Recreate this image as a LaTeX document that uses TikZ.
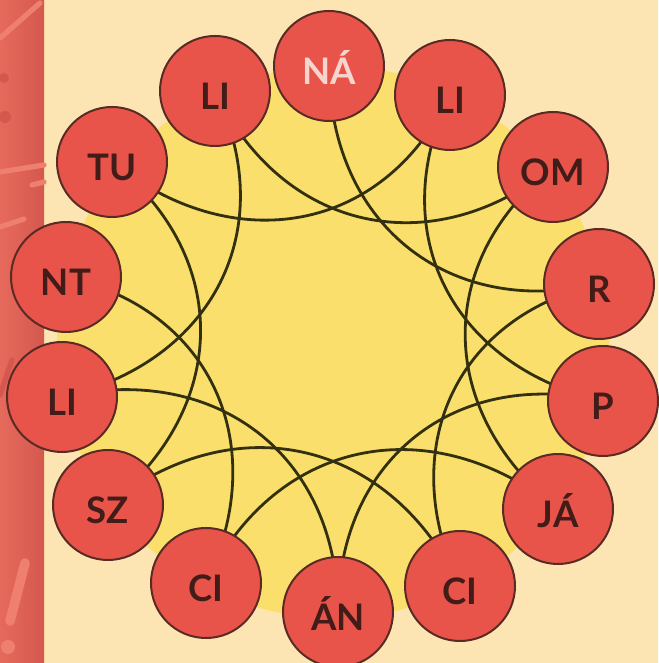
\documentclass[tikz,border=0pt]{standalone}
\usepackage{fontspec}
\setmainfont{Lato}
\definecolor{Cream}{HTML}{FCE5B2}
\definecolor{Sun}{HTML}{FADF6C}
\definecolor{Coral}{HTML}{E9544A}
\definecolor{Rim}{HTML}{5A2A25}
\definecolor{Ink}{HTML}{421C19}
\definecolor{Pale}{HTML}{F7D5CC}
\definecolor{Wire}{HTML}{33300F}
\definecolor{Strip}{HTML}{E66A5C}
\definecolor{StripDark}{HTML}{D4584D}
\definecolor{StripLight}{HTML}{EF8070}
\pgfdeclarelayer{back}
\pgfdeclarelayer{links}
\pgfsetlayers{back,links,main}

\begin{document}
\begin{tikzpicture}[x=0.25mm,y=0.25mm,
    syll/.style={circle,draw=Rim,line width=0.5mm,fill=Coral,minimum size=27.5mm,
      inner sep=0pt,font=\fontsize{26}{30}\selectfont\bfseries,
      text height=27pt,text depth=0pt},
    link/.style={draw=Wire,line width=0.7mm,looseness=1.15},
    scrawl/.style={line width=1.3mm,line cap=round}
  ]
    \useasboundingbox (0,0) rectangle (658,663);
    \begin{pgfonlayer}{back}
      \fill[Cream] (0,0) rectangle (658,663);
      \shade[left color=Strip,right color=StripDark] (0,0) rectangle (44,663);
      % marks on the strip
      \draw[scrawl,StripLight] (0,625) -- (40,660);
      \draw[scrawl,StripLight] (0,491) -- (44,498);
      \draw[scrawl,StripLight] (32,478) -- (44,481);
      \draw[scrawl,StripLight] (0,436) -- (24,444);
      \fill[StripDark] (4,585) circle[radius=5];
      \fill[StripDark] (5,546) circle[radius=6];
      \draw[scrawl,StripDark] (0,268) -- (12,303);
      \draw[StripLight,line width=2.4mm,line cap=round] (25,100) -- (10,42);
      \fill[StripLight] (8,16) circle[radius=7];
      \fill[Sun] (333,321) circle[radius=276];
    \end{pgfonlayer}
    \foreach \k/\txt/\x/\y/\col in {0/NÁ/329/597/Pale, 1/LI/450/568/Ink,
        2/OM/553/496/Ink, 3/R/599/379/Ink, 4/P/603/262/Ink, 5/JÁ/558/154/Ink,
        6/CI/460/77/Ink, 7/ÁN/338/51/Ink, 8/CI/206/80/Ink, 9/SZ/108/158/Ink,
        10/LI/62/266/Ink, 11/NT/66/386/Ink, 12/TU/112/501/Ink, 13/LI/215/572/Ink}
      \node[syll,text=\col] (n\k) at (\x,\y) {\txt};
    \begin{pgfonlayer}{links}
      \foreach \a/\b in {0/3,3/6,6/9,9/12,12/1,1/4,4/7,7/10,10/13,13/2,2/5,5/8,8/11}{
        \pgfmathsetmacro\oa{270-\a*360/14}
        \pgfmathsetmacro\ob{270-\b*360/14}
        \draw[link] (n\a.center) to[out=\oa,in=\ob] (n\b.center);
      }
    \end{pgfonlayer}
  \end{tikzpicture}
\end{document}
